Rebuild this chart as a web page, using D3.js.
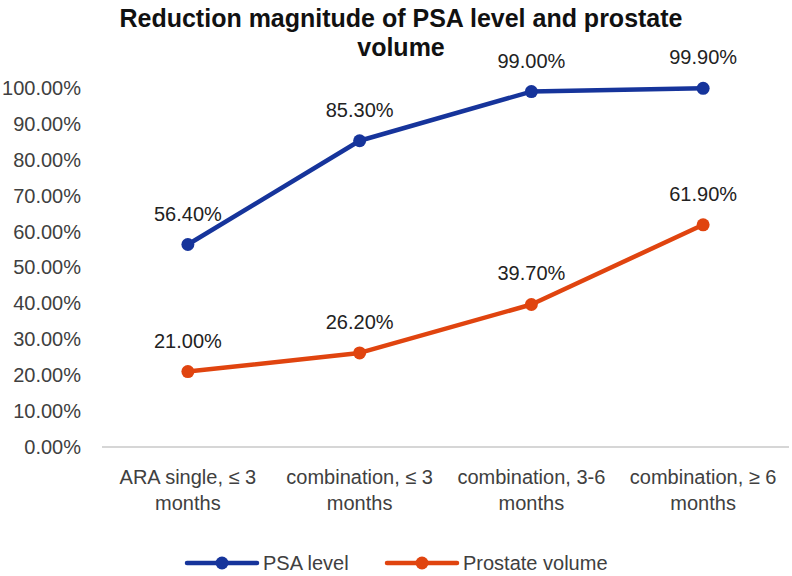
<!DOCTYPE html>
<html>
<head>
<meta charset="utf-8">
<script src="https://cdn.jsdelivr.net/npm/d3@7"></script>
<style>
  html, body { margin: 0; padding: 0; background: #fff; }
  svg { display: block; font-family: "Liberation Sans", Arial, Helvetica, sans-serif; }
</style>
</head>
<body>
<svg id="chart" width="792" height="576"></svg>
<script>
// ---- data ----
const categories = [
  ["ARA single, \u2264 3", "months"],
  ["combination, \u2264 3", "months"],
  ["combination, 3-6", "months"],
  ["combination, \u2265 6", "months"]
];
const psaLevel = [0.564, 0.853, 0.990, 0.999];
const prostateVolume = [0.210, 0.262, 0.397, 0.619];
const yTicks = [0, 0.1, 0.2, 0.3, 0.4, 0.5, 0.6, 0.7, 0.8, 0.9, 1.0];
const seriesNames = ["PSA level", "Prostate volume"];
const titleLines = ["Reduction magnitude of PSA level and prostate", "volume"];

const colors = ["#16349b", "#e0440f"];
const series = [
  { name: seriesNames[0], values: psaLevel, color: colors[0] },
  { name: seriesNames[1], values: prostateVolume, color: colors[1] }
];

const svg = d3.select("#chart");
const plotLeft = 102, plotRight = 789, plotTop = 88, plotBottom = 447;

const x = d3.scalePoint().domain(d3.range(categories.length)).range([plotLeft, plotRight]).padding(0.5);
const y = d3.scaleLinear().domain([0, 1]).range([plotBottom, plotTop]);
const fmt = d3.format(".2%");

// title
svg.append("g").selectAll("text").data(titleLines).join("text")
  .attr("x", 401).attr("y", (d, i) => 27 + i * 29)
  .attr("text-anchor", "middle")
  .attr("font-size", 25).attr("font-weight", "bold").attr("fill", "#111")
  .text(d => d);

// y axis (labels only)
const yAxis = d3.axisLeft(y).tickValues(yTicks).tickFormat(fmt).tickSize(0).tickPadding(0);
const gy = svg.append("g").attr("transform", `translate(81,0)`).call(yAxis);
gy.select(".domain").remove();
gy.selectAll("text").attr("font-size", 20).attr("fill", "#404040")
  .attr("font-family", "'Liberation Sans', Arial, sans-serif");

// x axis line
const xAxis = d3.axisBottom(x).tickSize(0).tickFormat("");
const gx = svg.append("g").attr("transform", `translate(0,${plotBottom})`).call(xAxis);
gx.select(".domain").attr("stroke", "#c8c8c8").attr("stroke-width", 1.5)
  .attr("d", `M${plotLeft},0H${plotRight}`);

// x labels
const xl = svg.append("g").selectAll("text").data(categories).join("text")
  .attr("text-anchor", "middle")
  .attr("font-size", 20).attr("fill", "#404040");
xl.each(function(d, i) {
  const t = d3.select(this);
  d.forEach((line, j) => {
    t.append("tspan").attr("x", x(i)).attr("y", plotBottom + 37 + j * 26).text(line);
  });
});

// lines
const lineGen = d3.line().x((d, i) => x(i)).y(d => y(d));
const gs = svg.append("g").selectAll("g").data(series).join("g");
gs.append("path")
  .attr("d", d => lineGen(d.values))
  .attr("fill", "none").attr("stroke", d => d.color)
  .attr("stroke-width", 4.5).attr("stroke-linejoin", "round").attr("stroke-linecap", "round");
gs.each(function(s) {
  const g = d3.select(this);
  g.selectAll("circle").data(s.values).join("circle")
    .attr("cx", (d, i) => x(i)).attr("cy", d => y(d)).attr("r", 6.5)
    .attr("fill", s.color);
  g.selectAll("text").data(s.values).join("text")
    .attr("x", (d, i) => x(i)).attr("y", d => y(d) - 24)
    .attr("text-anchor", "middle").attr("font-size", 20).attr("fill", "#222")
    .text(d => fmt(d));
});

// legend
const legendY = 563;
const legendItems = [
  { name: seriesNames[0], color: colors[0], x0: 187 },
  { name: seriesNames[1], color: colors[1], x0: 387 }
];
const lg = svg.append("g").selectAll("g").data(legendItems).join("g")
  .attr("transform", d => `translate(${d.x0},${legendY})`);
lg.append("line").attr("x1", 0).attr("x2", 70).attr("y1", 0).attr("y2", 0)
  .attr("stroke", d => d.color).attr("stroke-width", 4.5).attr("stroke-linecap", "round");
lg.append("circle").attr("cx", 35).attr("cy", 0).attr("r", 6.5).attr("fill", d => d.color);
lg.append("text").attr("x", 76).attr("y", 7).attr("font-size", 20).attr("fill", "#404040")
  .text(d => d.name);
</script>
</body>
</html>
